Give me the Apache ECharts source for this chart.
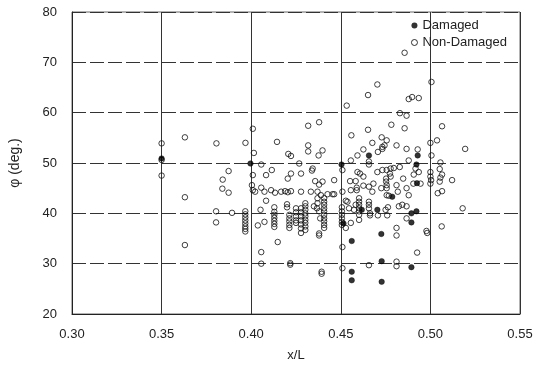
<!DOCTYPE html>
<html>
<head>
<meta charset="utf-8">
<script src="https://cdn.jsdelivr.net/npm/echarts@6/dist/echarts.min.js"></script>
<style>html,body{margin:0;padding:0;background:#fff;}#chart{width:540px;height:367px;}</style>
</head>
<body>
<div id="chart"></div>
<script>
const seriesNames = ['Damaged', 'Non-Damaged'];
const xAxisTitle = 'x/L';
const yAxisTitle = 'φ (deg.)';
const xTicks = [0.30, 0.35, 0.40, 0.45, 0.50, 0.55];
const yTicks = [20, 30, 40, 50, 60, 70, 80];

const damagedPoints = [
  [0.350,50.9],[0.3996,49.9],[0.4657,51.5],[0.4504,49.7],[0.4929,51.5],[0.4787,43.3],
  [0.4925,46.0],[0.4922,49.7],[0.4894,29.3],[0.4728,30.5],[0.4728,26.4],[0.4726,35.9],
  [0.4561,34.5],[0.4561,28.4],[0.4561,26.7],[0.4894,38.2],[0.4894,40.0],[0.4922,40.4],
  [0.4704,40.7],[0.4617,40.7],[0.4515,38.0]
];

const nonDamagedPoints = [
  [0.350,53.9],[0.350,50.6],[0.350,47.5],
  [0.363,55.1],[0.363,43.2],[0.363,33.7],
  [0.3806,53.9],[0.3874,48.4],[0.3841,46.7],[0.3839,44.9],[0.3874,44.1],[0.3804,40.4],[0.3893,40.1],[0.3804,38.2],
  [0.3968,54.0],[0.4009,56.8],[0.4015,52.0],[0.4144,54.2],[0.4222,51.4],[0.4318,57.4],[0.4318,53.5],[0.4318,52.3],[0.4268,49.9],[0.4056,49.7],
  [0.4856,71.9],[0.5006,66.1],[0.4704,65.6],[0.4652,63.5],[0.4879,62.7],[0.4898,63.1],[0.4935,62.9],[0.4533,61.4],[0.4830,59.9],[0.4867,59.4],
  [0.4782,57.6],[0.4856,56.9],[0.5065,57.3],[0.4652,56.6],[0.4559,55.5],[0.4728,55.1],[0.4756,54.5],[0.4744,53.5],[0.4732,53.2],[0.4707,52.2],
  [0.4732,52.8],[0.4676,54.0],[0.4811,53.5],[0.4867,52.8],[0.4929,52.7],[0.5000,54.0],[0.5037,54.5],[0.5006,51.5],[0.5056,50.1],[0.5194,52.8],
  [0.4657,50.3],[0.4657,49.7],[0.4626,52.7],[0.4593,51.5],[0.4556,50.5],[0.4379,58.1],[0.4398,52.5],[0.4376,51.5],
  [0.4509,48.6],[0.4593,48.2],[0.4607,47.9],[0.4626,47.3],[0.4552,46.4],[0.4583,46.4],[0.4589,45.1],[0.4589,44.6],[0.4626,45.5],[0.4657,45.3],
  [0.4682,45.9],[0.4704,48.2],[0.4732,48.6],[0.4756,48.6],[0.4778,48.9],[0.4796,49.0],[0.4774,47.9],[0.4778,47.3],[0.4753,46.9],[0.4753,46.3],
  [0.4756,45.6],[0.4756,45.0],[0.4726,45.0],[0.4756,43.6],[0.4768,43.5],[0.4829,49.2],[0.4811,45.6],[0.4818,44.3],[0.4848,46.9],[0.4867,45.0],
  [0.4879,43.6],[0.4905,45.9],[0.4945,45.9],[0.4907,47.7],[0.4935,48.2],[0.4917,48.9],[0.4879,50.5],[0.5000,48.2],[0.5000,47.3],[0.5004,46.6],
  [0.5000,45.9],[0.5052,48.8],[0.5065,47.7],[0.5056,47.1],[0.5052,46.3],[0.5041,44.0],[0.5065,44.4],[0.5121,46.6],[0.5180,41.0],[0.5063,37.4],
  [0.4978,36.5],[0.4982,36.1],[0.4926,32.2],[0.4811,30.4],[0.4811,29.5],[0.4811,37.1],[0.4811,35.6],[0.4657,29.7],[0.4509,33.3],[0.4509,29.1],
  [0.4528,37.1],[0.4393,28.0],[0.4393,28.4],[0.4379,35.6],[0.4379,36.0],[0.4867,39.0],[0.4843,41.7],[0.4867,41.4],[0.4824,41.4],[0.4763,41.2],
  [0.4750,40.7],[0.4759,39.6],[0.4707,39.6],[0.4657,42.3],[0.4657,41.7],[0.4657,41.0],
  [0.4602,43.0],[0.4602,42.3],[0.4602,41.7],[0.4602,41.0],[0.4602,40.4],[0.4602,39.7],[0.4602,38.7],
  [0.4583,41.7],[0.4574,40.7],[0.4546,41.0],[0.4537,42.3],[0.4528,42.5],
  [0.4506,41.2],[0.4506,40.4],[0.4506,39.7],[0.4506,39.0],[0.4506,38.3],[0.4506,37.7],
  [0.4407,43.0],[0.4407,42.3],[0.4407,41.7],[0.4407,41.0],[0.4407,40.4],[0.4407,39.7],[0.4407,39.0],[0.4407,38.4],[0.4407,37.7],[0.4407,37.1],
  [0.4302,42.0],[0.4302,41.4],[0.4302,40.7],[0.4302,40.0],[0.4302,39.4],[0.4302,38.7],[0.4302,38.1],[0.4302,37.4],[0.4302,36.7],
  [0.4370,44.3],[0.4370,43.0],[0.4370,42.0],
  [0.4463,46.6],[0.4509,44.3],[0.4463,43.8],[0.4426,43.8],[0.4333,44.3],[0.4278,44.3],[0.4278,47.9],[0.4350,41.4],[0.4367,41.0],[0.4379,40.4],[0.4385,39.0],
  [0.4556,44.6],[0.4676,44.3],[0.4663,40.0],[0.4663,39.6],[0.4556,38.1],
  [0.4115,48.6],[0.4083,47.6],[0.4009,47.6],[0.4004,45.6],[0.4009,44.6],[0.4022,44.3],[0.4056,45.1],[0.4074,44.3],[0.4111,44.6],[0.4133,44.1],
  [0.4167,44.3],[0.4189,44.4],[0.4207,51.8],[0.4204,46.9],[0.4083,42.5],[0.4052,40.7],[0.4074,38.3],[0.4037,37.6],
  [0.3967,40.4],[0.3967,39.8],[0.3967,39.2],[0.3967,38.6],[0.3967,38.0],[0.3967,37.4],[0.3967,36.9],[0.3967,36.4],
  [0.4129,40.3],[0.4129,39.7],[0.4129,39.1],[0.4129,38.5],[0.4129,37.9],[0.4129,37.3],
  [0.4148,34.3],
  [0.4213,39.7],[0.4213,39.0],[0.4213,38.4],[0.4213,37.7],[0.4213,37.1],
  [0.4056,32.3],[0.4056,30.0],[0.4218,29.8],[0.4218,30.1],[0.4129,41.2],[0.4200,41.8],[0.4200,41.2],
  [0.4250,41.0],[0.4250,40.2],[0.4250,39.4],[0.4250,38.6],[0.4250,38.1],
  [0.4278,41.0],[0.4278,40.2],[0.4278,39.4],[0.4278,38.6],[0.4278,37.8],[0.4278,37.0],[0.4278,36.1],
  [0.4222,47.9],[0.4339,48.5],[0.4204,44.2],[0.4222,44.4],[0.4343,48.9],
  [0.4357,46.4],[0.4379,45.7],[0.4398,46.3],[0.4389,43.6],[0.4454,43.8]
];

const FONT = "'Liberation Sans', Arial, sans-serif";
const chart = echarts.init(document.getElementById('chart'), null, {renderer: 'canvas'});
chart.setOption({
  animation: false,
  backgroundColor: '#fff',
  textStyle: {fontFamily: FONT, color: '#222'},
  grid: {left: 70, right: 20, top: 12, bottom: 50, show: true, borderColor: '#666', borderWidth: 1},
  legend: {
    orient: 'vertical',
    right: 28,
    top: 14,
    itemWidth: 6,
    itemHeight: 6,
    itemGap: 4,
    textStyle: {fontFamily: FONT, fontSize: 13, color: '#222'},
    data: [
      {name: seriesNames[0], icon: 'circle', itemStyle: {color: '#000', borderWidth: 0}},
      {name: seriesNames[1], icon: 'circle', itemStyle: {color: '#fff', borderColor: '#000', borderWidth: 1}}
    ]
  },
  xAxis: {
    type: 'value',
    min: xTicks[0], max: xTicks[xTicks.length - 1], interval: 0.05,
    name: xAxisTitle, nameLocation: 'middle', nameGap: 35,
    nameTextStyle: {fontFamily: FONT, fontSize: 13, color: '#222'},
    axisLine: {show: true, lineStyle: {color: '#222', width: 1}},
    axisTick: {show: false},
    axisLabel: {margin: 14, fontSize: 13, color: '#222', fontFamily: FONT, formatter: v => v.toFixed(2)},
    splitLine: {show: true, lineStyle: {color: '#333', width: 1, type: 'solid'}}
  },
  yAxis: {
    type: 'value',
    min: yTicks[0], max: yTicks[yTicks.length - 1], interval: 10,
    name: yAxisTitle, nameLocation: 'middle', nameGap: 50, nameRotate: 90,
    nameTextStyle: {fontFamily: FONT, fontSize: 14, color: '#222'},
    axisLine: {show: true, lineStyle: {color: '#222', width: 1}},
    axisTick: {show: false},
    axisLabel: {margin: 15, fontSize: 13, color: '#222', fontFamily: FONT},
    splitLine: {show: true, lineStyle: {color: '#333', width: 1, type: [14, 4]}}
  },
  series: [
    {
      name: seriesNames[1], type: 'scatter', data: nonDamagedPoints,
      symbol: 'circle', symbolSize: 5.5,
      itemStyle: {color: 'rgba(255,255,255,0)', borderColor: '#111', borderWidth: 1}
    },
    {
      name: seriesNames[0], type: 'scatter', data: damagedPoints,
      symbol: 'circle', symbolSize: 5.5,
      itemStyle: {color: '#000', borderColor: '#000', borderWidth: 0.5}
    }
  ]
});
</script>
</body>
</html>
